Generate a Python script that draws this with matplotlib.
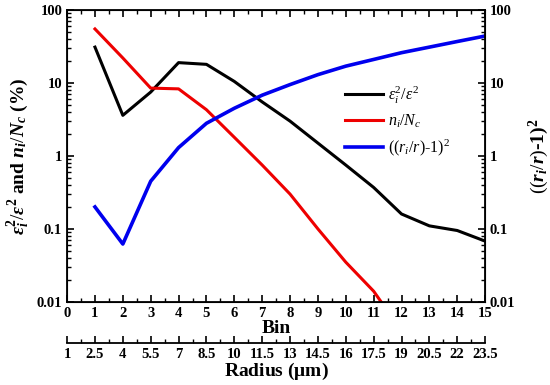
import numpy as np
import matplotlib
matplotlib.use("Agg")
import matplotlib.pyplot as plt
from matplotlib.ticker import LogLocator, NullFormatter, FixedLocator

plt.rcParams['font.family'] = ['Liberation Serif', 'DejaVu Serif']
plt.rcParams['mathtext.fontset'] = 'custom'
plt.rcParams['mathtext.rm'] = 'Liberation Serif'
plt.rcParams['mathtext.it'] = 'Liberation Serif:italic'
plt.rcParams['mathtext.bf'] = 'Liberation Serif:bold'
plt.rcParams['mathtext.bfit'] = 'Liberation Serif:bold:italic'

# data
bins = [1, 2, 3, 4, 5, 6, 7, 8, 9, 10, 11, 12, 13, 14, 15]
eps_ratio = [31, 3.6, 7.5, 19, 18, 10.5, 5.5, 3.0, 1.5, 0.75, 0.37, 0.16, 0.11, 0.095, 0.068]
n_bins = [1, 2, 3, 4, 5, 6, 7, 8, 9, 10, 11, 12]
n_ratio = [55, 22, 8.5, 8.3, 4.3, 1.8, 0.75, 0.3, 0.1, 0.035, 0.014, 0.004]
r_dev = [0.2, 0.062, 0.45, 1.3, 2.8, 4.5, 6.8, 9.5, 13, 17, 21, 26, 31, 37, 44]

bin_ticks = list(range(0, 16))
radius_labels = ['1', '2.5', '4', '5.5', '7', '8.5', '10', '11.5', '13', '14.5',
                 '16', '17.5', '19', '20.5', '22', '23.5']
log_ticks = [0.01, 0.1, 1, 10, 100]
log_labels = ['0.01', '0.1', '1', '10', '100']

fig = plt.figure(figsize=(5.5, 3.85), dpi=100)
ax = fig.add_axes([0.122, 0.216, 0.76, 0.758])

ax.plot(bins, eps_ratio, color='black', lw=2.2, label=r'$\varepsilon_i^2/\varepsilon^2$')
ax.plot(n_bins, n_ratio, color='#ee0000', lw=2.2, label=r'$n_i/N_c$')
ax.plot(bins, r_dev, color='#0000ee', lw=2.6, label=r'$((r_i/r)$-1)$^2$')

ax.set_yscale('log')
ax.set_ylim(0.01, 100)
ax.set_xlim(0, 15)
ax.set_xticks(bin_ticks)
ax.set_xticklabels([str(b) for b in bin_ticks], fontweight='bold')
ax.xaxis.set_minor_locator(FixedLocator(np.arange(0.5, 15, 1)))
ax.set_yticks(log_ticks)
ax.set_yticklabels(log_labels, fontweight='bold')
ax.yaxis.set_minor_locator(LogLocator(base=10, subs=np.arange(2, 10)))
ax.yaxis.set_minor_formatter(NullFormatter())
ax.tick_params(which='both', direction='in', top=True, right=False, labelsize=10.5)
ax.tick_params(which='major', length=5, width=1.2)
ax.tick_params(which='minor', length=3, width=1)
for s in ax.spines.values():
    s.set_linewidth(1.3)

ax.set_xlabel('Bin', fontsize=14, fontweight='bold', labelpad=0)
ax.set_ylabel(r'$\mathbfit{\varepsilon}_{\mathbfit{i}}^{\mathbf{2}}/\mathbfit{\varepsilon}^{\mathbf{2}}$ and $\mathbfit{n}_{\mathbfit{i}}/\mathbfit{N}_{\mathbfit{c}}$ (%)',
              fontsize=14, fontweight='bold', labelpad=4)

# right axis
ax2 = ax.twinx()
ax2.set_yscale('log')
ax2.set_ylim(0.01, 100)
ax2.set_yticks(log_ticks)
ax2.set_yticklabels(log_labels, fontweight='bold')
ax2.yaxis.set_minor_locator(LogLocator(base=10, subs=np.arange(2, 10)))
ax2.yaxis.set_minor_formatter(NullFormatter())
ax2.tick_params(which='both', direction='in', labelsize=10.5)
ax2.tick_params(which='major', length=5, width=1.2)
ax2.tick_params(which='minor', length=3, width=1)
ax2.set_ylabel(r'$((\mathbfit{r}_{\mathbfit{i}}/\mathbfit{r})$-1)$^{\mathbf{2}}$',
               fontsize=14, fontweight='bold', labelpad=8)

# radius axis below
sec = ax.secondary_xaxis(-0.14)
sec.set_xticks(bin_ticks)
sec.set_xticklabels(radius_labels, fontweight='bold')
sec.xaxis.set_minor_locator(FixedLocator(np.arange(0.5, 15, 1)))
sec.tick_params(which='both', direction='in', labelsize=10.5)
sec.tick_params(which='major', length=5, width=1.2)
sec.tick_params(which='minor', length=3, width=1)
sec.spines['bottom'].set_linewidth(1.3)
sec.set_xlabel(r'Radius ($\mathbf{\mu}$m)', fontsize=14, fontweight='bold', labelpad=0)

ax.legend(loc='upper left', bbox_to_anchor=(0.63, 0.795), frameon=False,
          handlelength=2.4, handletextpad=0.3, labelspacing=0.45,
          prop={'weight': 'normal', 'size': 11.5})

fig.savefig('out.png', dpi=100)
